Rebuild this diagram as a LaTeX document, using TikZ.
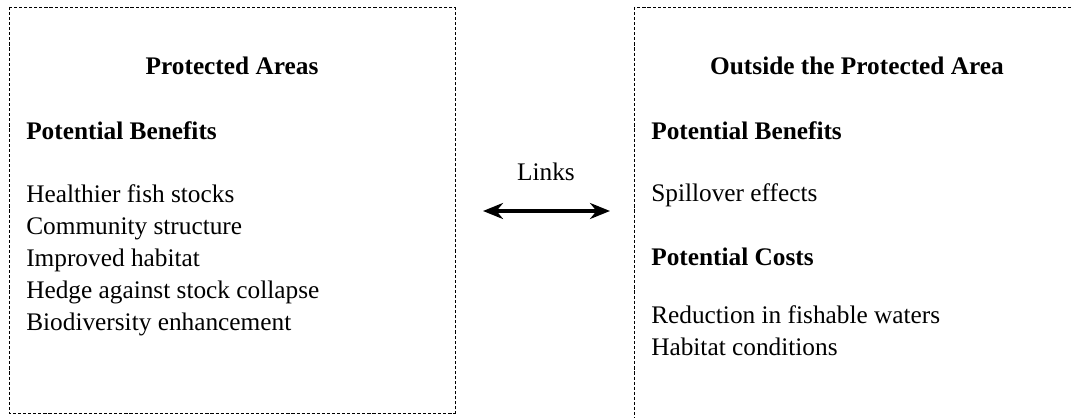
\documentclass[tikz,border=0pt]{standalone}
\usepackage{fontspec}
\setmainfont{Liberation Serif}
\usetikzlibrary{arrows.meta}

\tikzset{
  zone/.style={draw, line width=0.7pt, dash pattern=on 2.2pt off 1.4pt},
  title/.style={font=\fontsize{18}{22}\selectfont\bfseries, anchor=base, inner sep=0},
  heading/.style={font=\fontsize{18}{22}\selectfont\bfseries, anchor=base west, inner sep=0},
  item/.style={font=\fontsize{18}{22}\selectfont, anchor=base west, inner sep=0},
}

\begin{document}
\begin{tikzpicture}[x=0.025cm, y=-0.025cm]
		%%%%% START %%%%%
		
		\clip (0, 0) rectangle (1071, 418);
		
		\draw[zone] (9, 7) rectangle (455, 413);
		\draw[zone] (634, 7) rectangle (1080, 440);
		
		\node[title] (protTitle) at (232, 75) {Protected Areas};
		\node[heading] (protBen) at (26, 140) {Potential Benefits};
		\foreach \txt [count=\i] in {Healthier fish stocks, Community structure, Improved habitat, Hedge against stock collapse, Biodiversity enhancement}
			\node[item] (protItem\i) at (26, {203 + (\i - 1)*31.8}) {\txt};
		
		\node[item, anchor=base] (links) at (546, 181) {Links};
		\coordinate (linkL) at (483, 211);
		\coordinate (linkR) at (610, 211);
		\draw[line width=2.6pt, {Stealth[length=0.5cm, width=0.4cm]}-{Stealth[length=0.5cm, width=0.4cm]}] (linkL) -- (linkR);
		
		\node[title] (outTitle) at (857, 75) {Outside the Protected Area};
		\node[heading] (outBen) at (651, 140) {Potential Benefits};
		\node[item] (outSpill) at (651, 202) {Spillover effects};
		\node[heading] (outCost) at (651, 266) {Potential Costs};
		\node[item] (outRed) at (651, 324) {Reduction in fishable waters};
		\node[item] (outHab) at (651, 356) {Habitat conditions};
		
		%%%%% END %%%%%
\end{tikzpicture}
\end{document}
